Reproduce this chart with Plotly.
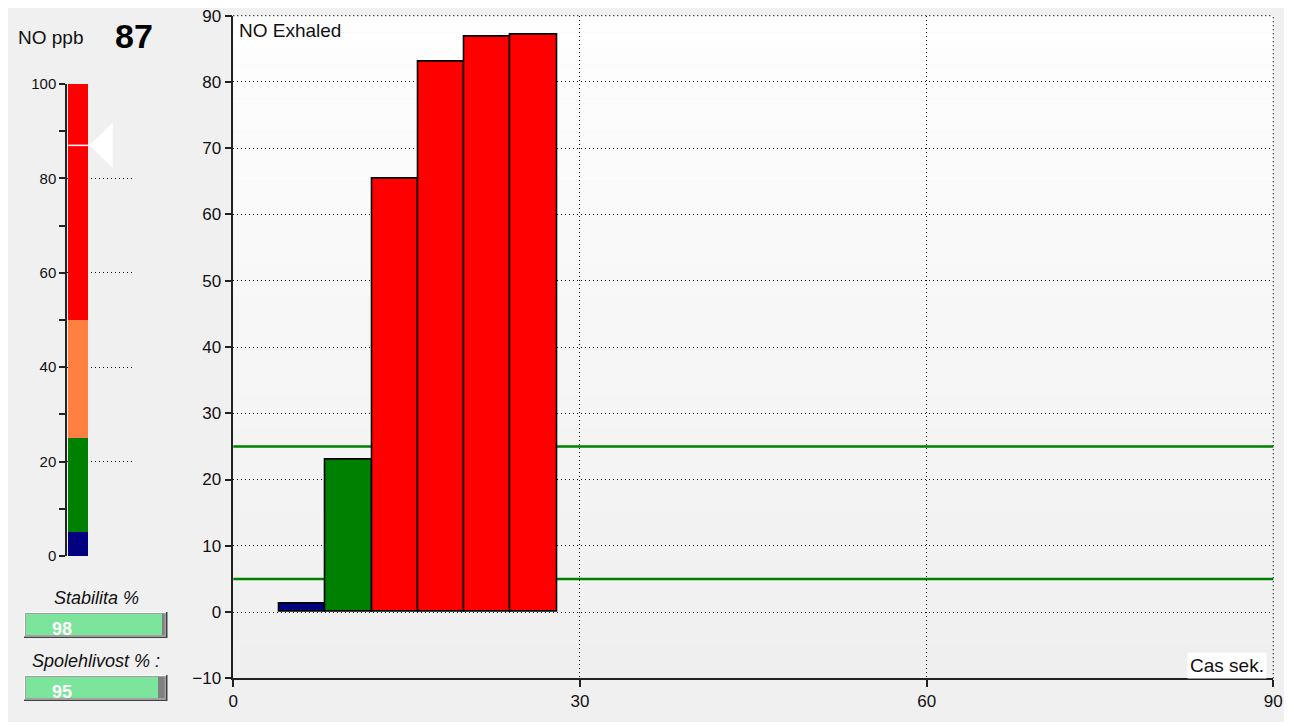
import plotly.graph_objects as go

# ---------------- data ----------------
bin_start = [4, 8, 12, 16, 20, 24]          # seconds
bin_width = 4
no_values = [1.3, 23.0, 65.4, 83.1, 86.8, 87.2]  # NO ppb per bin
threshold_lines = [5, 25]
gauge_bounds = [0, 5, 25, 50, 100]
gauge_colors = ["#000080", "#008000", "#ff8040", "#ff0000"]
no_ppb = 87
stabilita = 98
spolehlivost = 95
x_ticks = [0, 30, 60, 90]

OFF = 8                      # page body margin
W, H = 1290 - OFF, 722 - OFF
FONT = "Liberation Sans"
DOT = "1px,3px"


def fx(px):
    return (px - OFF) / W


def fy(py):
    return 1 - (py - OFF) / H


def color_for(v):
    for lo, hi, c in zip(gauge_bounds[:-1], gauge_bounds[1:], gauge_colors):
        if v < hi:
            return c
    return gauge_colors[-1]


fig = go.Figure()

# main bars
fig.add_trace(go.Bar(
    x=bin_start, y=no_values, width=bin_width, offset=0,
    marker=dict(color=[color_for(v) for v in no_values],
                line=dict(color="black", width=1.6)),
    xaxis="x", yaxis="y", showlegend=False, hoverinfo="skip"))

# gauge segments
seg_base = gauge_bounds[:-1]
seg_len = [b - a for a, b in zip(gauge_bounds[:-1], gauge_bounds[1:])]
fig.add_trace(go.Bar(
    x=[11.3] * len(seg_len), y=seg_len, base=seg_base, width=20,
    marker=dict(color=gauge_colors, line=dict(width=0)),
    xaxis="x2", yaxis="y2", showlegend=False, hoverinfo="skip"))
# pointer line + triangle
fig.add_trace(go.Scatter(
    x=[1.3, 22.3], y=[no_ppb, no_ppb], mode="lines",
    line=dict(color="white", width=1.5),
    xaxis="x2", yaxis="y2", showlegend=False, hoverinfo="skip"))
fig.add_trace(go.Scatter(
    x=[22.3, 45.7, 45.7, 22.3], y=[no_ppb, no_ppb + 4.8, no_ppb - 4.8, no_ppb],
    mode="lines", fill="toself", fillcolor="white", line=dict(width=0, color="white"),
    xaxis="x2", yaxis="y2", showlegend=False, hoverinfo="skip"))

# progress bars
for val, xa, ya in [(stabilita, "x3", "y3"), (spolehlivost, "x4", "y4")]:
    fig.add_trace(go.Bar(x=[100], y=[0], orientation="h", width=1,
                         marker=dict(color="#808080", line=dict(width=0)),
                         xaxis=xa, yaxis=ya, showlegend=False, hoverinfo="skip"))
    fig.add_trace(go.Bar(x=[val], y=[0], orientation="h", width=1,
                         marker=dict(color="#7de59b", line=dict(width=0)),
                         xaxis=xa, yaxis=ya, showlegend=False, hoverinfo="skip"))

shapes = []
# progress bar bevel frames
for top in (612, 675):
    shapes.append(dict(type="rect", xref="paper", yref="paper",
                       x0=fx(24), x1=fx(167.5), y0=fy(top + 26), y1=fy(top),
                       fillcolor="#404040", line=dict(width=0), layer="below"))
    shapes.append(dict(type="rect", xref="paper", yref="paper",
                       x0=fx(24), x1=fx(166), y0=fy(top + 24.5), y1=fy(top),
                       fillcolor="#ffffff", line=dict(width=0), layer="below"))
    shapes.append(dict(type="rect", xref="paper", yref="paper",
                       x0=fx(25), x1=fx(166), y0=fy(top + 24.5), y1=fy(top + 1),
                       fillcolor="#a0a0a0", line=dict(width=0), layer="below"))
# plot area gradient
N = 40
for i in range(N):
    c = int(round(254 - (254 - 239) * i / (N - 1)))
    shapes.append(dict(type="rect", xref="x domain", yref="y domain",
                       x0=0, x1=1, y0=1 - (i + 1) / N, y1=1 - i / N,
                       fillcolor=f"rgb({c},{c},{c})", line=dict(width=0), layer="below"))
# threshold lines
for t in threshold_lines:
    shapes.append(dict(type="line", xref="x domain", yref="y", x0=0, x1=1, y0=t, y1=t,
                       line=dict(color="#008000", width=2.5), layer="below"))
# dotted top / right border grid lines of the plot area
shapes.append(dict(type="line", xref="x domain", yref="y domain", x0=0, x1=1, y0=1, y1=1,
                   line=dict(color="#000", width=1.2, dash=DOT), layer="below"))
shapes.append(dict(type="line", xref="x domain", yref="y domain", x0=1, x1=1, y0=0, y1=1,
                   line=dict(color="#000", width=1.2, dash=DOT), layer="below"))

annotations = [
    dict(text="NO Exhaled", xref="paper", yref="paper", x=fx(237), y=fy(31),
         xanchor="left", yanchor="middle", showarrow=False,
         font=dict(family=FONT, size=19, color="#111")),
    dict(text="Cas sek.", xref="paper", yref="paper", x=fx(1267), y=fy(665),
         xanchor="right", yanchor="middle", showarrow=False, bgcolor="white",
         borderpad=2, font=dict(family=FONT, size=19, color="#111")),
    dict(text="NO ppb", xref="paper", yref="paper", x=fx(16), y=fy(38),
         xanchor="left", yanchor="middle", showarrow=False,
         font=dict(family=FONT, size=19, color="#111")),
    dict(text=f"<b>{no_ppb}</b>", xref="paper", yref="paper", x=fx(113), y=fy(36),
         xanchor="left", yanchor="middle", showarrow=False,
         font=dict(family=FONT, size=34, color="#000")),
    dict(text="<i>Stabilita %</i>", xref="paper", yref="paper", x=fx(96), y=fy(598),
         xanchor="center", yanchor="middle", showarrow=False,
         font=dict(family=FONT, size=18, color="#111")),
    dict(text="<i>Spolehlivost % :</i>", xref="paper", yref="paper", x=fx(96), y=fy(661),
         xanchor="center", yanchor="middle", showarrow=False,
         font=dict(family=FONT, size=18, color="#111")),
    dict(text=f"<b>{stabilita}</b>", xref="paper", yref="paper", x=fx(62), y=fy(629),
         xanchor="center", yanchor="middle", showarrow=False,
         font=dict(family=FONT, size=18, color="white")),
    dict(text=f"<b>{spolehlivost}</b>", xref="paper", yref="paper", x=fx(62), y=fy(692),
         xanchor="center", yanchor="middle", showarrow=False,
         font=dict(family=FONT, size=18, color="white")),
]

hidden = dict(visible=False, fixedrange=True, automargin=False)

fig.update_layout(
    template="none",
    width=W, height=H, margin=dict(l=0, r=0, t=0, b=0, pad=0, autoexpand=False),
    paper_bgcolor="#f0f0f0", plot_bgcolor="rgba(0,0,0,0)",
    barmode="overlay", bargap=0,
    font=dict(family=FONT, size=15, color="#111"),
    shapes=shapes, annotations=annotations,
    xaxis=dict(domain=[fx(233.3), fx(1273.3)], range=[0, 90], tickvals=x_ticks,
               ticks="outside", ticklen=7, tickwidth=1.5, tickcolor="#222",
               showline=True, linecolor="#222", linewidth=1.5,
               showgrid=True, gridcolor="#000", griddash=DOT, gridwidth=1.2,
               zeroline=False, tickfont=dict(size=17), fixedrange=True, automargin=False,
               ticklabeloverflow="allow"),
    yaxis=dict(domain=[fy(678.3), fy(15.7)], range=[-10, 90], dtick=10, tick0=0,
               ticks="outside", ticklen=7, tickwidth=1.5, tickcolor="#222",
               showline=True, linecolor="#222", linewidth=1.5,
               showgrid=True, gridcolor="#000", griddash=DOT, gridwidth=1.2,
               zeroline=False, tickfont=dict(size=17), fixedrange=True, automargin=False,
               ticklabeloverflow="allow"),
    xaxis2=dict(domain=[fx(67), fx(135)], range=[0, 68], **hidden),
    yaxis2=dict(anchor="x2", domain=[fy(556), fy(84)], range=[0, 100], dtick=20, tick0=0,
                ticks="outside", ticklen=6, tickwidth=1.5, tickcolor="#222",
                showline=True, linecolor="#222", linewidth=1.5,
                showgrid=True, gridcolor="#000", griddash=DOT, gridwidth=1.2,
                zeroline=False, tickfont=dict(size=15),
                minor=dict(dtick=10, ticks="outside", ticklen=6, tickwidth=1.5,
                           tickcolor="#222", showgrid=False),
                fixedrange=True, automargin=False),
    xaxis3=dict(domain=[fx(26), fx(164.5)], range=[0, 100], anchor="y3", **hidden),
    yaxis3=dict(domain=[fy(635), fy(614)], range=[-0.5, 0.5], anchor="x3", **hidden),
    xaxis4=dict(domain=[fx(26), fx(164.5)], range=[0, 100], anchor="y4", **hidden),
    yaxis4=dict(domain=[fy(698), fy(677)], range=[-0.5, 0.5], anchor="x4", **hidden),
)

fig.write_html("out.html")
